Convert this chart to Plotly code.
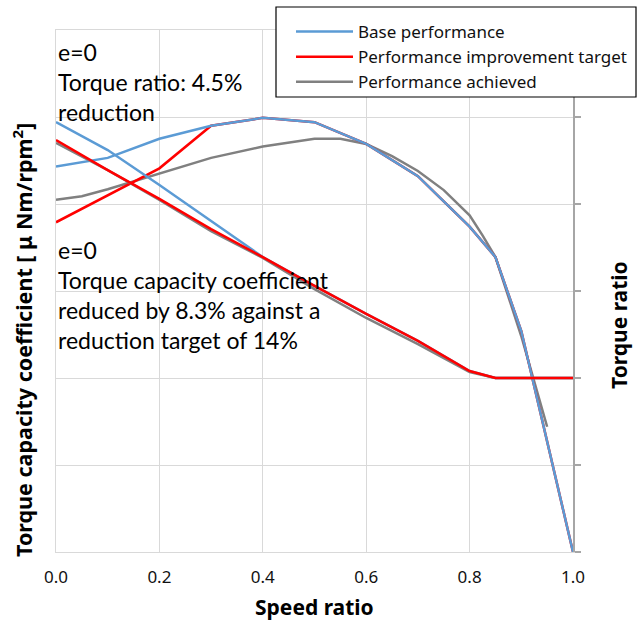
import plotly.graph_objects as go

# Speed ratio grids
x_base_cc = [0, 0.1, 0.2, 0.3, 0.4, 0.5, 0.6, 0.7, 0.8, 0.85, 0.9, 1.0]
base_cc = [4.43, 4.53, 4.75, 4.90, 4.99, 4.94, 4.69, 4.32, 3.74, 3.39, 2.54, 0.0]

x_target_cc = [0, 0.1, 0.2, 0.3, 0.4, 0.5, 0.6, 0.7, 0.8, 0.85, 0.9, 1.0]
target_cc = [3.79, 4.10, 4.41, 4.90, 4.99, 4.94, 4.69, 4.32, 3.74, 3.39, 2.54, 0.0]

x_achieved_cc = [0, 0.05, 0.1, 0.2, 0.3, 0.4, 0.5, 0.55, 0.6, 0.65, 0.7, 0.75, 0.8, 0.825, 0.85, 0.9, 0.95]
achieved_cc = [4.05, 4.09, 4.17, 4.35, 4.53, 4.66, 4.75, 4.75, 4.69, 4.55, 4.38, 4.16, 3.87, 3.64, 3.39, 2.48, 1.44]

x_tr = [0, 0.1, 0.2, 0.3, 0.4, 0.5, 0.6, 0.7, 0.8, 0.85, 1.0]
base_tr = [2.471, 2.310, 2.109, 1.902, 1.695, 1.529, 1.368, 1.213, 1.040, 1.0, 1.0]
target_tr = [2.368, 2.195, 2.029, 1.856, 1.695, 1.529, 1.368, 1.213, 1.040, 1.0, 1.0]
achieved_tr = [2.351, 2.195, 2.023, 1.844, 1.690, 1.511, 1.345, 1.195, 1.034, 1.0, 1.0]

x_ticks = [0.0, 0.2, 0.4, 0.6, 0.8, 1.0]
x_ticktext = ["0.0", "0.2", "0.4", "0.6", "0.8", "1.0"]

BLUE = "#5B9BD5"
RED = "#FF0000"
GRAY = "#808080"
LW = 2.5

fig = go.Figure()
# torque ratio (secondary axis)
fig.add_trace(go.Scatter(x=x_tr, y=base_tr, yaxis="y2", mode="lines",
                         line=dict(color=BLUE, width=LW), showlegend=False))
fig.add_trace(go.Scatter(x=x_tr, y=achieved_tr, yaxis="y2", mode="lines",
                         line=dict(color=GRAY, width=LW), showlegend=False))
fig.add_trace(go.Scatter(x=x_tr, y=target_tr, yaxis="y2", mode="lines",
                         line=dict(color=RED, width=LW), showlegend=False))
# capacity coefficient (primary axis)
fig.add_trace(go.Scatter(x=x_achieved_cc, y=achieved_cc, mode="lines",
                         line=dict(color=GRAY, width=LW), name="Performance achieved",
                         legendrank=3))
fig.add_trace(go.Scatter(x=x_target_cc, y=target_cc, mode="lines",
                         line=dict(color=RED, width=LW), name="Performance improvement target",
                         legendrank=2))
fig.add_trace(go.Scatter(x=x_base_cc, y=base_cc, mode="lines",
                         line=dict(color=BLUE, width=LW), name="Base performance",
                         legendrank=1))

GRID = "#d9d9d9"
PW, PH = 517, 522


def px_x(p):
    return (p - 56) / PW


def px_y(p):
    return (552 - p) / PH


fig.update_layout(
    width=637, height=624,
    margin=dict(l=56, r=64, t=30, b=72, autoexpand=False),
    paper_bgcolor="white", plot_bgcolor="white",
    font=dict(family="Noto Sans", color="#000000"),
    xaxis=dict(range=[0, 1], tickvals=x_ticks, ticktext=x_ticktext,
               showgrid=True, gridcolor=GRID, gridwidth=1,
               showline=True, linecolor=GRID, mirror=True, zeroline=False,
               ticks="", ticklabelstandoff=10,
               tickfont=dict(family="Noto Sans", size=17, color="#111111")),
    yaxis=dict(range=[0, 6], dtick=1, showgrid=True, gridcolor=GRID, gridwidth=1,
               showline=True, linecolor=GRID, zeroline=False, showticklabels=False,
               ticks=""),
    yaxis2=dict(range=[0, 3], dtick=0.5, overlaying="y", side="right",
                showgrid=False, zeroline=False, showticklabels=False,
                showline=True, linecolor="#a6a6a6", linewidth=1.5,
                ticks="outside", ticklen=6, tickcolor="#a6a6a6", tickwidth=1.5),
    legend=dict(x=px_x(291), y=px_y(14), xanchor="left", yanchor="top",
                bgcolor="rgba(0,0,0,0)", borderwidth=0,
                font=dict(family="Noto Sans", size=17, color="#111111"),
                itemwidth=57, traceorder="normal"),
    shapes=[
        dict(type="rect", xref="paper", yref="paper",
             x0=px_x(276), x1=px_x(636), y0=px_y(97), y1=px_y(7),
             fillcolor="white", line=dict(color="#000000", width=1.2), layer="above"),
    ],
    annotations=[
        dict(text="e=0<br>Torque ratio: 4.5%<br>reduction", xref="paper", yref="paper",
             x=0.0, y=px_y(36), xanchor="left", yanchor="top", align="left",
             showarrow=False, font=dict(family="Lato", size=23, color="#000000")),
        dict(text="e=0<br>Torque capacity coefficient<br>reduced by 8.3% against a<br>reduction target of 14%",
             xref="paper", yref="paper",
             x=0.0, y=px_y(234), xanchor="left", yanchor="top", align="left",
             showarrow=False, font=dict(family="Lato", size=23, color="#000000")),
        dict(text="<b>Speed ratio</b>", xref="paper", yref="paper",
             x=0.5, y=px_y(607), xanchor="center", yanchor="middle",
             showarrow=False, font=dict(family="Noto Sans", size=21, color="#000000")),
        dict(text="<b>Torque capacity coefficient [ μ Nm/rpm<sup>2</sup>]</b>",
             xref="paper", yref="paper", textangle=-90,
             x=px_x(22), y=px_y(340), xanchor="center", yanchor="middle",
             showarrow=False, font=dict(family="Noto Sans", size=21.5, color="#000000")),
        dict(text="<b>Torque ratio</b>", xref="paper", yref="paper", textangle=-90,
             x=px_x(619), y=px_y(325), xanchor="center", yanchor="middle",
             showarrow=False, font=dict(family="Noto Sans", size=21, color="#000000")),
    ],
)

fig.write_html("out.html")
